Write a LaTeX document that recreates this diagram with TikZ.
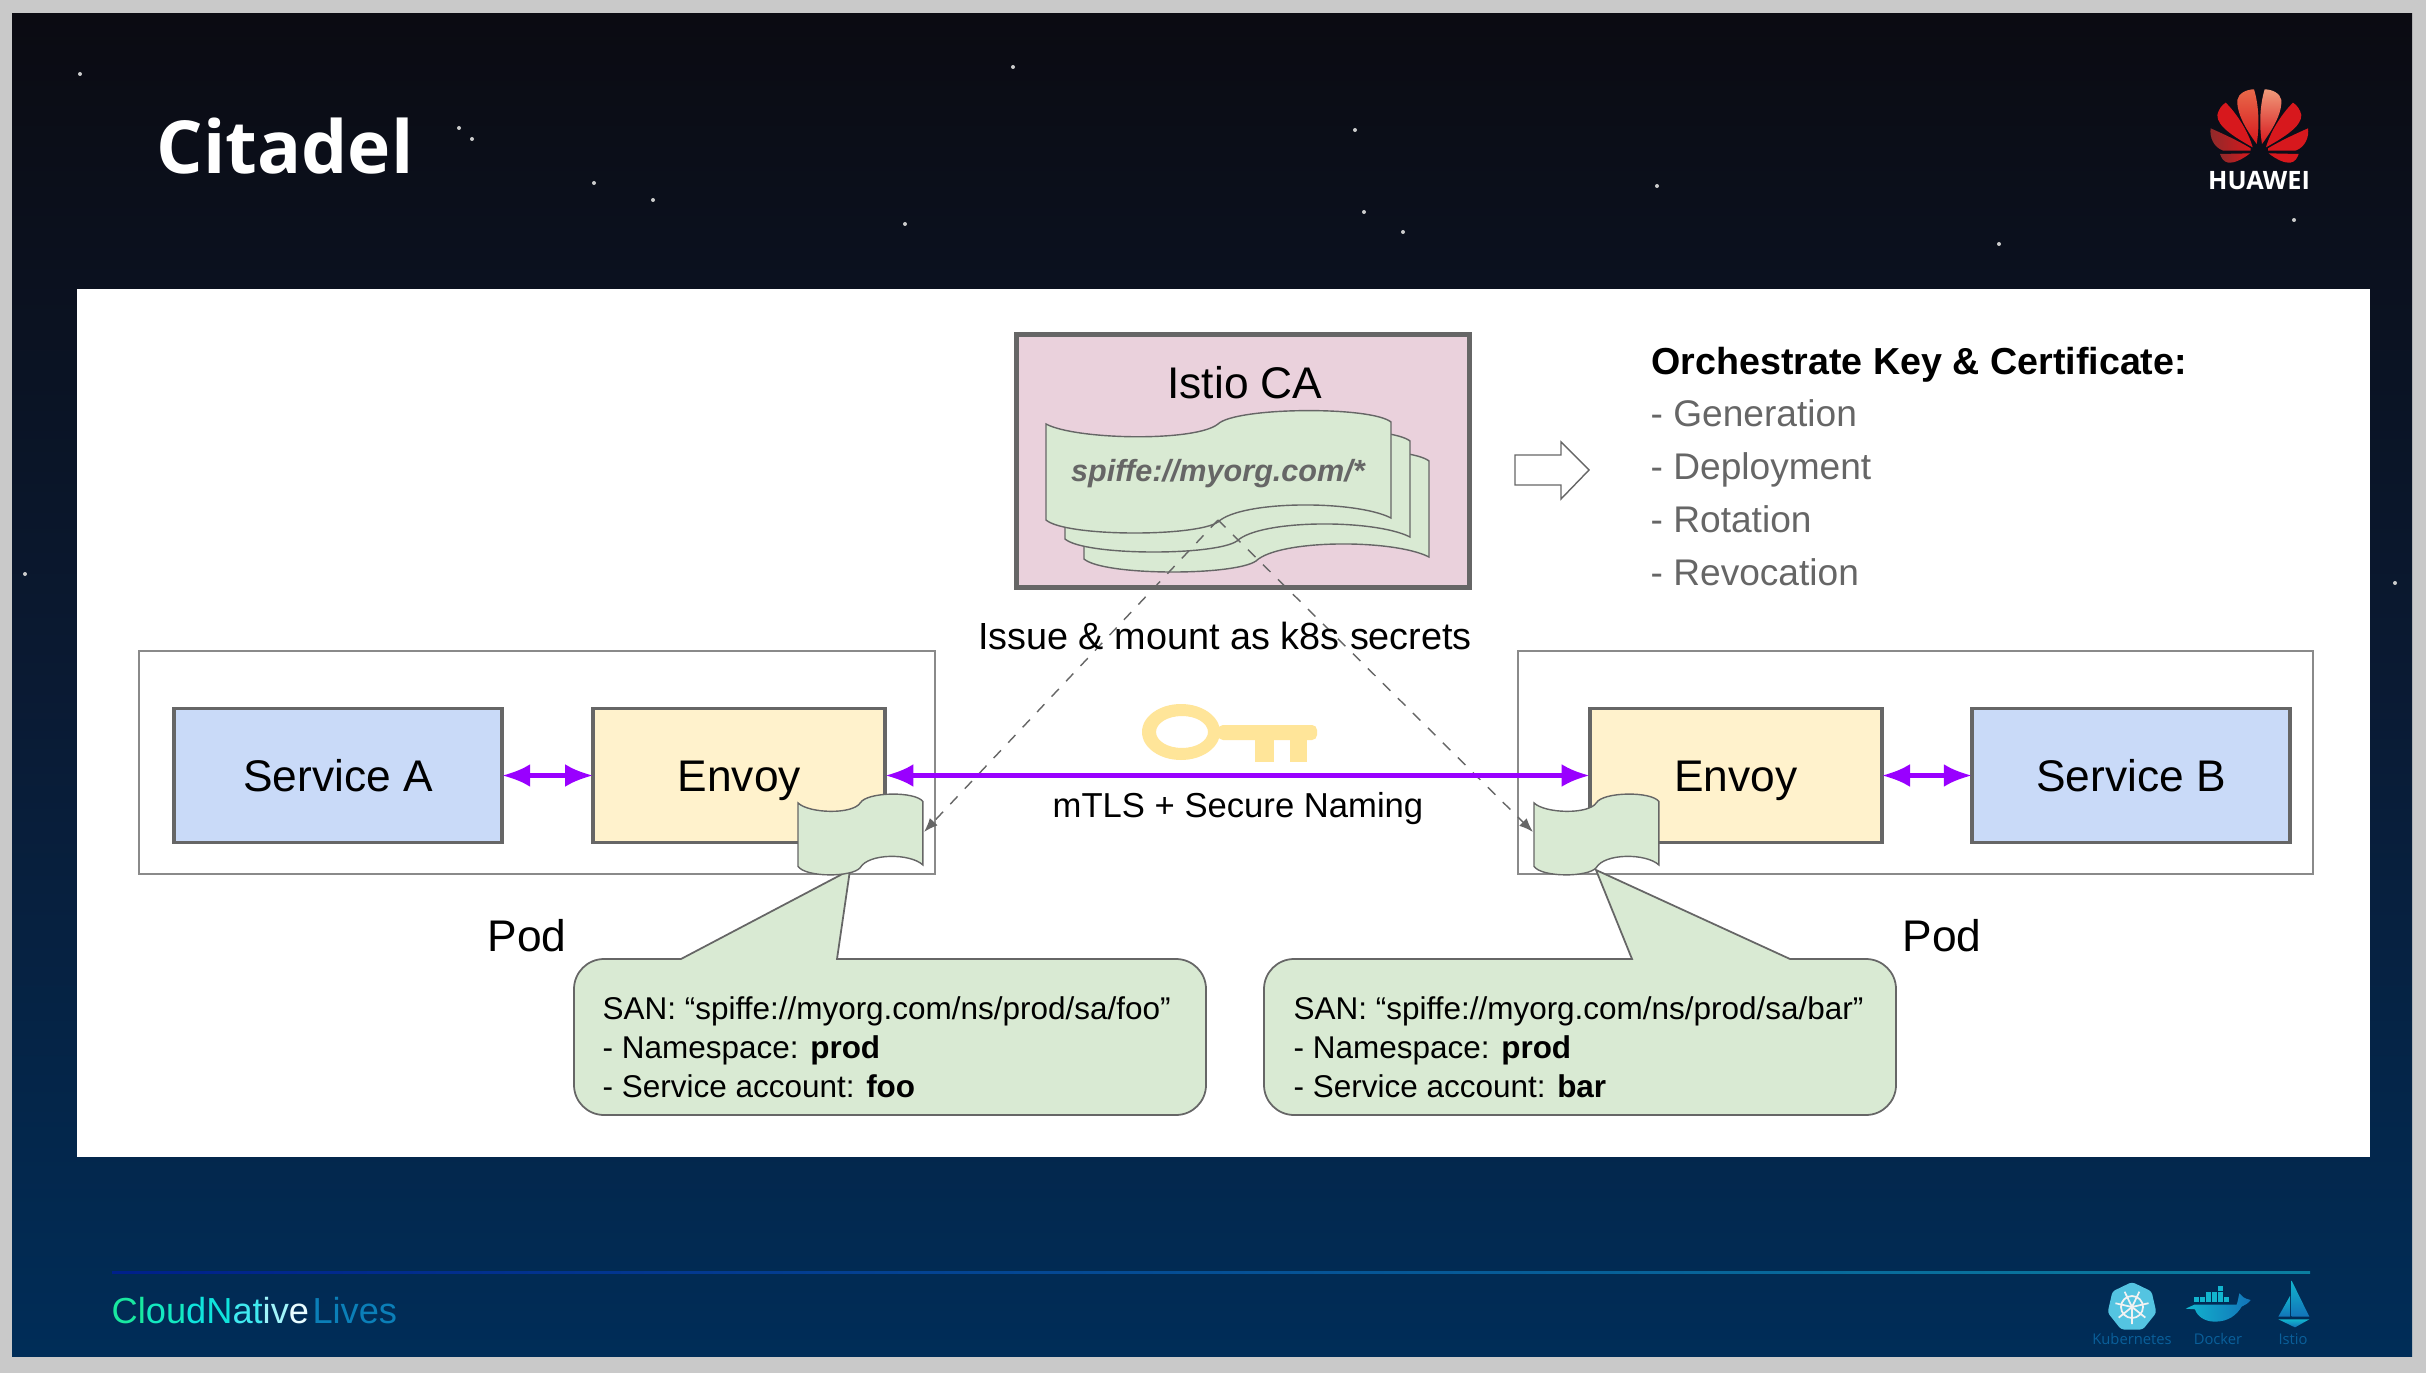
\documentclass[tikz,border=0pt]{standalone}
\usepackage{fontspec}
\setmainfont{Liberation Sans}
\newfontfamily\slidefont{Open Sans}
\usetikzlibrary{shapes, shapes.geometric, positioning, arrows.meta}
\definecolor{pagegray}{HTML}{C9C9C9}
\definecolor{slidetop}{HTML}{0B0B12}
\definecolor{slidemid}{HTML}{0A1A33}
\definecolor{slidelow}{HTML}{002D58}
\definecolor{bordergray}{HTML}{666666}
\definecolor{podgray}{HTML}{8A8A8A}
\definecolor{capink}{HTML}{EAD1DC}
\definecolor{certgreen}{HTML}{D9EAD3}
\definecolor{svcblue}{HTML}{C9DAF8}
\definecolor{envoyyellow}{HTML}{FFF2CC}
\definecolor{keygold}{HTML}{FFE599}
\definecolor{linkpurple}{HTML}{9900FF}
\definecolor{huaweired}{HTML}{D7181D}
\definecolor{iconcyan}{HTML}{12B5CE}
\definecolor{iconblue}{HTML}{1273B8}
\definecolor{iconlabel}{HTML}{0A5F9A}

\begin{document}
\begin{tikzpicture}[x=0.01cm, y=-0.01cm]
    % Define the style for the boxes
    \tikzset{
        svcbox/.style={rectangle, draw=bordergray, line width=1.1pt, minimum height=1.34cm, outer sep=0pt, text centered, text height=9pt, text depth=0pt, font=\fontsize{12.6}{15}\selectfont},
        podframe/.style={draw=podgray, line width=0.45pt},
        sheet/.style={draw=bordergray, line width=0.4pt, fill=certgreen},
        link/.style={draw=linkpurple, line width=1.3pt, {Latex[length=8pt, width=6.5pt]}-{Latex[length=8pt, width=6.5pt]}},
        issue/.style={draw=bordergray, line width=0.4pt, dashed, -{Latex[length=4pt, width=3pt]}},
        callout/.style={draw=bordergray, line width=0.5pt, fill=certgreen},
        plainlabel/.style={inner sep=0pt, font=\fontsize{12.6}{15}\selectfont},
        steplabel/.style={inner sep=0pt, anchor=west, text=bordergray, text height=8pt, text depth=2pt, font=\fontsize{10.55}{13}\selectfont},
        sanlabel/.style={inner sep=0pt, anchor=west, align=left, font=\fontsize{8.95}{11.1}\selectfont},
        iconlabel/.style={inner sep=0pt, text=iconlabel, font=\slidefont\fontsize{4.2}{5}\selectfont},
        pics/certsheet/.style={code={
            \draw[sheet] (0,12) .. controls (30,28) and (150,30) .. (172,12)
                .. controls (190,-5) and (325,-6) .. (345,10) -- (345,106)
                .. controls (310,88) and (195,88) .. (172,110)
                .. controls (150,125) and (20,125) .. (0,108) -- cycle;
        }}
    }

    % Draw the slide background
    \fill[pagegray] (0,0) rectangle (2426,1373);
    \shade[top color=slidetop, bottom color=slidelow, middle color=slidemid] (12,14) rectangle (2412,1356);
    \foreach \sx/\sy in {80/74, 472/139, 459/128, 594/183, 653/200, 905/224, 1013/67, 1355/130, 1364/212, 1403/232, 1657/186, 1999/244, 2294/220, 25/574, 2395/583}
        \fill[gray!40] (\sx,\sy) circle (2);
    \fill[white] (77,289) rectangle (2370,1157);

    % Draw the title and the logo
    \node[inner sep=0pt, anchor=west, text=white, font=\slidefont\bfseries\fontsize{20.8}{25}\selectfont] (title) at (156,146) {Citadel};
    \begin{scope}[shift={(2060,60)}, scale=1/3]
        \foreach \side/\topshade/\lowshade in {1/E8694A/8E2A2A, -1/F09A7A/D7181D} {
            \begin{scope}[shift={(598,0)}, xscale=\side, shift={(-598,0)}]
                \definecolor{petaltop}{HTML}{\topshade}
                \definecolor{petallow}{HTML}{\lowshade}
                \shade[top color=petaltop, bottom color=huaweired] (590,252) .. controls (545,190) and (530,150) .. (532,120) .. controls (535,100) and (560,88) .. (582,88) .. controls (595,130) and (600,190) .. (590,252) -- cycle;
                \fill[huaweired] (578,262) .. controls (530,235) and (470,200) .. (472,165) .. controls (475,150) and (485,135) .. (497,128) .. controls (530,160) and (565,215) .. (578,262) -- cycle;
                \shade[left color=petallow, right color=huaweired] (572,265) .. controls (530,240) and (490,222) .. (452,205) .. controls (448,230) and (460,262) .. (490,272) -- (572,272) -- cycle;
                \shade[left color=petallow, right color=huaweired] (480,282) -- (570,280) .. controls (545,300) and (520,310) .. (505,308) .. controls (490,305) and (485,295) .. (480,282) -- cycle;
            \end{scope}
        }
    \end{scope}
    \node[inner sep=0pt, text=white, font=\slidefont\bfseries\fontsize{7.2}{8}\selectfont] (brand) at (2259,181) {HUAWEI};

    % Draw the pods
    \draw[podframe] (139,651) rectangle (935,874);
    \draw[podframe] (1518,651) rectangle (2313,874);

    % Draw the services and the proxies
    \node[svcbox, fill=svcblue, minimum width=3.28cm] (serviceA) at (338,775.5) {Service A};
    \node[svcbox, fill=envoyyellow, minimum width=2.92cm, right=0.91cm of serviceA] (envoyA) {Envoy};
    \node[svcbox, fill=svcblue, minimum width=3.18cm] (serviceB) at (2131,775.5) {Service B};
    \node[svcbox, fill=envoyyellow, minimum width=2.92cm, left=0.90cm of serviceB] (envoyB) {Envoy};

    % Draw the CA with its stack of certificates
    \node[svcbox, draw=bordergray, line width=1.4pt, fill=capink, minimum width=4.52cm, minimum height=2.52cm] (ca) at (1243,461) {};
    \node[plainlabel] (caname) at (1245,383) {Istio CA};
    \pic at (1084,451) {certsheet};
    \pic at (1065,431) {certsheet};
    \pic at (1046,412) {certsheet};
    \node[inner sep=0pt, text=bordergray, font=\bfseries\itshape\fontsize{8.7}{11}\selectfont] (spiffe) at (1218,474) {spiffe://myorg.com/*};

    % Draw the arrow and the list of the CA duties
    \draw[bordergray, line width=0.4pt, fill=white] (1515,455) -- (1561,455) -- (1561,442) -- (1589,470) -- (1561,499) -- (1561,485) -- (1515,485) -- cycle;
    \node[inner sep=0pt, anchor=west, text height=8pt, text depth=2pt, font=\bfseries\fontsize{10.7}{13}\selectfont] (duties) at (1651,364) {Orchestrate Key \& Certificate:};
    \node[steplabel] (gen) at (1650,416) {- Generation};
    \node[steplabel] (dep) at (1650,469) {- Deployment};
    \node[steplabel] (rot) at (1650,522) {- Rotation};
    \node[steplabel] (rev) at (1650,575) {- Revocation};

    % Draw the callouts
    \draw[callout] (681,959) -- (850,870) -- (837,959) [rounded corners=0.3cm] -- (1206,959) -- (1206,1115) -- (574,1115) -- (574,959) [sharp corners] -- cycle;
    \draw[callout] (1790,959) -- (1596,870) -- (1632,959) [rounded corners=0.3cm] -- (1264,959) -- (1264,1115) -- (1896,1115) -- (1896,959) [sharp corners] -- cycle;
    \node[sanlabel] (sanA) at (602,1047) {SAN: “spiffe://myorg.com/ns/prod/sa/foo”\\- Namespace: \textbf{prod}\\- Service account: \textbf{foo}};
    \node[sanlabel] (sanB) at (1293,1047) {SAN: “spiffe://myorg.com/ns/prod/sa/bar”\\- Namespace: \textbf{prod}\\- Service account: \textbf{bar}};

    % Draw the mounted certificates
    \pic[xscale=0.362, yscale=0.66] at (798,795) {certsheet};
    \pic[xscale=0.362, yscale=0.66] at (1534,795) {certsheet};

    % Draw the connections
    \coordinate (issued) at (1218,520);
    \coordinate (mountA) at (924,832);
    \coordinate (mountB) at (1533,832);
    \draw[issue] (issued) -- (mountA);
    \draw[issue] (issued) -- (mountB);
    \draw[link] (serviceA) -- (envoyA);
    \draw[link] (envoyB) -- (serviceB);
    \draw[link] (envoyA) -- (envoyB);

    % Draw the key
    \fill[keygold, even odd rule] (1181,732) ellipse [x radius=39, y radius=28] (1182,732) ellipse [x radius=26, y radius=16];
    \fill[keygold, rounded corners=0.05cm] (1218,725) -- (1317,725) -- (1317,740) -- (1218,740) -- cycle;
    \fill[keygold] (1255,736) rectangle (1274,762);
    \fill[keygold] (1290,736) rectangle (1307,762);

    % Draw the remaining labels
    \node[inner sep=0pt, font=\fontsize{10.75}{13}\selectfont] (issuelabel) at (1225,636) {Issue \& mount as k8s secrets};
    \node[inner sep=0pt, font=\fontsize{9.85}{12}\selectfont] (mtls) at (1238,809) {mTLS + Secure Naming};
    \node[plainlabel] (podA) at (527,936) {Pod};
    \node[plainlabel] (podB) at (1942,936) {Pod};

    % Draw the footer
    \shade[left color=blue!30!slidelow, right color=iconcyan!60!slidelow] (112,1271) rectangle (2310,1273);
    \node[inner sep=0pt, anchor=west, font=\fontsize{10.3}{13}\selectfont] (brandline) at (111,1311) {\textcolor[HTML]{19E8A0}{Cl}\textcolor[HTML]{14E8C0}{ou}\textcolor[HTML]{10E4DC}{dN}\textcolor[HTML]{40EAF0}{at}\textcolor[HTML]{A0F4FA}{iv}\textcolor[HTML]{E8FCFF}{e}\kern1pt\textcolor[HTML]{0B7FB8}{Lives}};

    % Draw the kubernetes icon
    \node[regular polygon, regular polygon sides=7, fill=iconblue!60!cyan!70!white, rounded corners=0.03cm, minimum size=0.5cm, inner sep=0pt] (k8s) at (2132,1307) {};
    \draw[white!90!gray, line width=0.5pt] (k8s.center) circle (11);
    \foreach \spoke in {90,141.4,...,450}
        \draw[white!90!gray, line width=0.5pt] (k8s.center) -- ++(\spoke:17);
    \node[iconlabel] (k8sname) at (2132,1339) {Kubernetes};

    % Draw the docker icon
    \begin{scope}[shift={(2040,1250)}, scale=1/3]
        \foreach \bx/\by in {533/108, 497/125, 515/125, 533/125, 497/142, 515/142, 533/142, 551/142, 463/142, 479/142}
            \fill[iconcyan] (\bx,\by) rectangle +(15,15);
        \shade[left color=iconcyan, right color=iconblue] (437,176) -- (463,164) -- (590,164) .. controls (595,150) and (595,140) .. (598,130) .. controls (605,140) and (612,145) .. (632,150) .. controls (625,160) and (615,165) .. (605,170) .. controls (590,195) and (565,215) .. (525,215) .. controls (490,215) and (470,195) .. (465,178) -- cycle;
    \end{scope}
    \node[iconlabel] (dockername) at (2218,1339) {Docker};

    % Draw the istio icon
    \begin{scope}[shift={(2040,1250)}, scale=1/3]
        \shade[top color=iconcyan, bottom color=iconblue] (755,92) -- (808,200) -- (755,200) -- cycle;
        \shade[top color=iconcyan, bottom color=iconblue] (750,138) -- (750,200) -- (715,200) -- cycle;
        \shade[top color=iconcyan, bottom color=iconblue] (715,208) -- (808,208) -- (765,232) -- cycle;
    \end{scope}
    \node[iconlabel] (istioname) at (2293,1339) {Istio};
\end{tikzpicture}
\end{document}
